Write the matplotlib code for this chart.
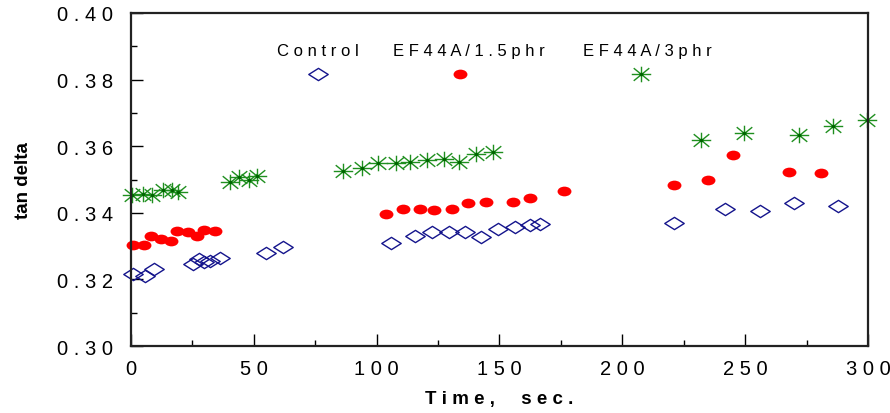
import numpy as np
import matplotlib
matplotlib.use("Agg")
import matplotlib.pyplot as plt
from matplotlib.path import Path
from matplotlib.markers import MarkerStyle
from matplotlib.transforms import Affine2D

plt.rcParams['font.family'] = ['Liberation Sans', 'DejaVu Sans']

# data
control_t = [0.8, 5.7, 9.4, 25.1, 27.8, 29.7, 32.2, 36.2, 54.9, 61.9,
             105.8, 115.6, 122.5, 129.4, 135.9, 142.4, 149.4, 156.3, 162.4, 166.5,
             221.0, 241.8, 256.0, 269.8, 287.8]
control_v = [0.3217, 0.3211, 0.3232, 0.3247, 0.3262, 0.3253, 0.3256, 0.3265, 0.3280, 0.3298,
             0.3310, 0.3331, 0.3343, 0.3343, 0.3343, 0.3328, 0.3352, 0.3358, 0.3364, 0.3367,
             0.3370, 0.3412, 0.3406, 0.3430, 0.3421]

ef15_t = [0.8, 5.3, 8.1, 12.2, 16.1, 18.9, 23.1, 27.0, 29.7, 34.2,
          103.8, 110.7, 117.6, 123.3, 130.6, 137.2, 144.5, 155.5, 162.4, 176.2,
          221.0, 234.8, 245.0, 267.8, 280.8]
ef15_v = [0.3304, 0.3304, 0.3331, 0.3322, 0.3316, 0.3346, 0.3343, 0.3331, 0.3349, 0.3346,
          0.3397, 0.3412, 0.3412, 0.3409, 0.3412, 0.3430, 0.3433, 0.3433, 0.3445, 0.3466,
          0.3484, 0.3499, 0.3574, 0.3523, 0.3520]

ef3_t = [0.4, 4.9, 8.5, 13.0, 16.7, 19.1, 40.3, 43.9, 47.9, 51.3,
         86.3, 94.0, 100.5, 107.9, 113.6, 120.5, 127.4, 133.5, 140.4, 147.3,
         232.0, 249.5, 271.9, 285.7, 299.6]
ef3_v = [0.3454, 0.3457, 0.3454, 0.3469, 0.3469, 0.3463, 0.3493, 0.3508, 0.3499, 0.3511,
         0.3526, 0.3535, 0.3550, 0.3550, 0.3553, 0.3559, 0.3562, 0.3553, 0.3577, 0.3583,
         0.3620, 0.3641, 0.3635, 0.3662, 0.3680]

labels = ['Control', 'EF44A/1.5phr', 'EF44A/3phr']
x_ticks = [0, 50, 100, 150, 200, 250, 300]
y_ticks = [0.30, 0.32, 0.34, 0.36, 0.38, 0.40]

NAVY = '#14148c'
RED = '#ff0000'
GREEN = '#1f8f1f'


def spaced(s, gap=' '):
    return gap.join(s)


# marker shapes
diamond = Path([(-1, 0), (0, 0.63), (1, 0), (0, -0.63), (-1, 0)],
               [Path.MOVETO, Path.LINETO, Path.LINETO, Path.LINETO, Path.CLOSEPOLY])
star = Path([(-1, 0), (1, 0), (0, -0.8), (0, 0.8),
             (-0.8, -0.65), (0.8, 0.65), (-0.8, 0.65), (0.8, -0.65)],
            [Path.MOVETO, Path.LINETO] * 4)
ellipse = MarkerStyle('o', transform=Affine2D().scale(1, 0.7))

fig = plt.figure(figsize=(8.9, 4.14), dpi=100)
ax = fig.add_axes([0.1472, 0.1618, 0.828, 0.8044])

style_c = dict(ls='none', marker=diamond, ms=14, mfc='none', mec=NAVY, mew=1.0, clip_on=False)
style_r = dict(ls='none', marker=ellipse, ms=10, mfc=RED, mec=RED, mew=0, clip_on=False)
style_g = dict(ls='none', marker=star, ms=14, mfc='none', mec=GREEN, mew=1.0, clip_on=False)
style_gc = dict(ls='none', marker='o', ms=2.5, mfc='#006400', mec='#006400', mew=0, clip_on=False)

ax.plot(control_t, control_v, **style_c)
ax.plot(ef15_t, ef15_v, **style_r)
ax.plot(ef3_t, ef3_v, **style_g)
ax.plot(ef3_t, ef3_v, **style_gc)

# legend: text above, marker below
leg_text_x = [0.198, 0.356, 0.613]
leg_mark_x = [0.254, 0.446, 0.692]
for lab, tx in zip(labels, leg_text_x):
    ax.text(tx, 0.886, spaced(lab), transform=ax.transAxes, ha='left', va='center',
            fontsize=12, color='black')
ax.plot([leg_mark_x[0]], [0.817], transform=ax.transAxes, **style_c)
ax.plot([leg_mark_x[1]], [0.817], transform=ax.transAxes, **style_r)
ax.plot([leg_mark_x[2]], [0.817], transform=ax.transAxes, **style_g)
ax.plot([leg_mark_x[2]], [0.817], transform=ax.transAxes, **style_gc)

ax.set_xlim(0, 300)
ax.set_ylim(0.30, 0.40)
ax.set_xticks(x_ticks)
ax.set_xticklabels([spaced(str(t)) for t in x_ticks])
ax.set_yticks(y_ticks)
ax.set_yticklabels([spaced(f'{v:.2f}') for v in y_ticks])
ax.set_xticks(np.arange(25, 300, 50), minor=True)
ax.set_yticks(np.arange(0.31, 0.40, 0.02), minor=True)

ax.tick_params(which='major', direction='in', length=8.5, width=1.0, labelsize=14.5,
               top=False, right=False)
ax.tick_params(which='minor', direction='in', length=4.3, width=1.0, top=False, right=False)
ax.tick_params(axis='y', which='major', pad=13)
ax.tick_params(axis='x', which='major', pad=9)

for sp in ax.spines.values():
    sp.set_linewidth(1.6)
    sp.set_color('#222222')

ax.set_xlabel('T i m e ,     s e c .', fontsize=13.5, fontweight='bold', labelpad=9)
ax.set_ylabel('tan delta', fontsize=13.5, fontweight='bold', labelpad=18)

fig.savefig('out.png', dpi=100)
